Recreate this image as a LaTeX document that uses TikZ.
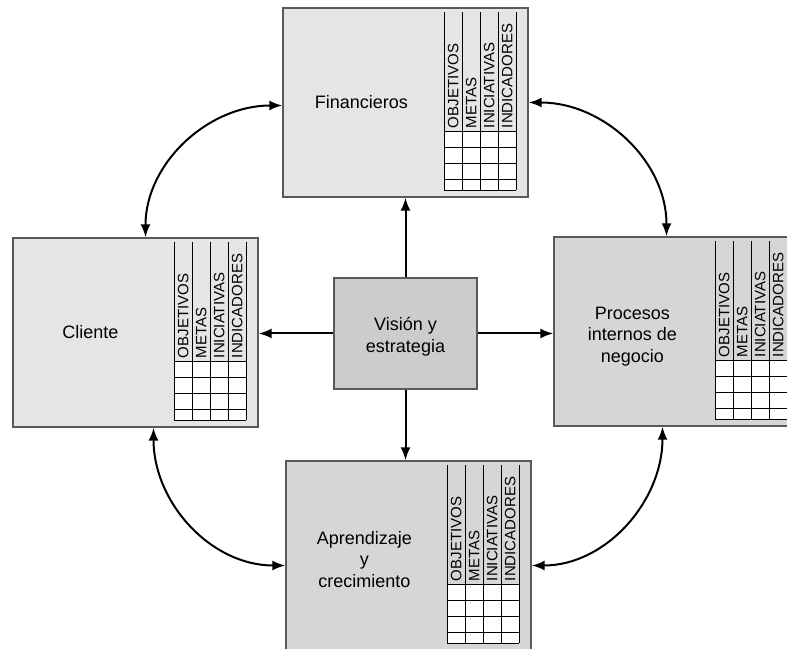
\documentclass[tikz,border=0pt]{standalone}
\usepackage{fontspec}
\setmainfont{Liberation Sans}
\usetikzlibrary{arrows.meta}
\definecolor{lightpanel}{gray}{0.90}
\definecolor{midpanel}{gray}{0.84}
\definecolor{darkpanel}{gray}{0.80}

\begin{document}
\begin{tikzpicture}[x=1pt,y=1pt,
  panel/.style = {shape=rectangle, draw=black!65, line width=1.4pt, minimum width=245pt, minimum height=189pt, inner sep=0pt},
  paneltext/.style = {align=center, font=\fontsize{18}{21.5}\selectfont},
  colhead/.style = {rotate=90, anchor=west, inner sep=3pt, font=\fontsize{15}{15}\selectfont},
  gridline/.style = {line width=1.2pt},
  link/.style = {line width=2pt, -{Latex[length=13pt,width=10pt]}},
  twoway/.style = {line width=2pt, {Latex[length=13pt,width=10pt]}-{Latex[length=13pt,width=10pt]}},
  bsc table/.pic = {
    \fill[white] (162,-124) rectangle (234,-183);
    \foreach \x in {162,180,...,234} \draw[gridline] (\x,-5) -- (\x,-183);
    \foreach \y in {-124,-140,-156,-172,-183} \draw[gridline] (162,\y) -- (234,\y);
    \foreach \t [count=\i] in {OBJETIVOS,METAS,INICIATIVAS,INDICADORES}
      \node[colhead] (-h\i) at (153+18*\i,-124) {\t};
  }]

  \useasboundingbox (0,0) rectangle (787,648);

  \node[panel, fill=lightpanel] (fin) at (405.5,545.5) {};
  \node[panel, fill=lightpanel] (cli) at (135.5,315.5) {};
  \node[panel, fill=midpanel] (pro) at (676.5,316.5) {};
  \node[panel, fill=midpanel] (apr) at (408.5,92.5) {};
  \node[panel, fill=darkpanel, minimum width=143pt, minimum height=111pt] (vis) at (405.5,314.5) {};

  \pic (fintab) at (fin.north west) {bsc table};
  \pic (clitab) at (cli.north west) {bsc table};
  \pic (protab) at (pro.north west) {bsc table};
  \pic (aprtab) at (apr.north west) {bsc table};

  \node[paneltext] (fintxt) at ([xshift=79pt]fin.west) {Financieros};
  \node[paneltext] (clitxt) at ([xshift=78pt]cli.west) {Cliente};
  \node[paneltext] (protxt) at ([xshift=79pt,yshift=-5pt]pro.west) {Procesos\\internos de\\negocio};
  \node[paneltext] (aprtxt) at ([xshift=79pt,yshift=-4pt]apr.west) {Aprendizaje\\y\\crecimiento};
  \node[paneltext] (vistxt) at ([yshift=-3pt]vis.center) {Visión y\\estrategia};

  \draw[link] (vis.north) -- (fin.south);
  \draw[link] (vis.west) -- (vis.west -| cli.east);
  \draw[link] (vis.east) -- (vis.east -| pro.west);
  \draw[link] (vis.south) -- (vis.south |- apr.north);

  \draw[twoway] ([xshift=10pt]cli.north) to[out=90,in=180] ([yshift=-3pt]fin.west);
  \draw[twoway] (fin.east) to[out=0,in=90] ([xshift=-10pt]pro.north);
  \draw[twoway] ([xshift=18pt]cli.south) to[out=-90,in=180] ([yshift=-10pt]apr.west);
  \draw[twoway] ([xshift=-14pt]pro.south) to[out=-90,in=0] ([yshift=-10pt]apr.east);
\end{tikzpicture}
\end{document}
